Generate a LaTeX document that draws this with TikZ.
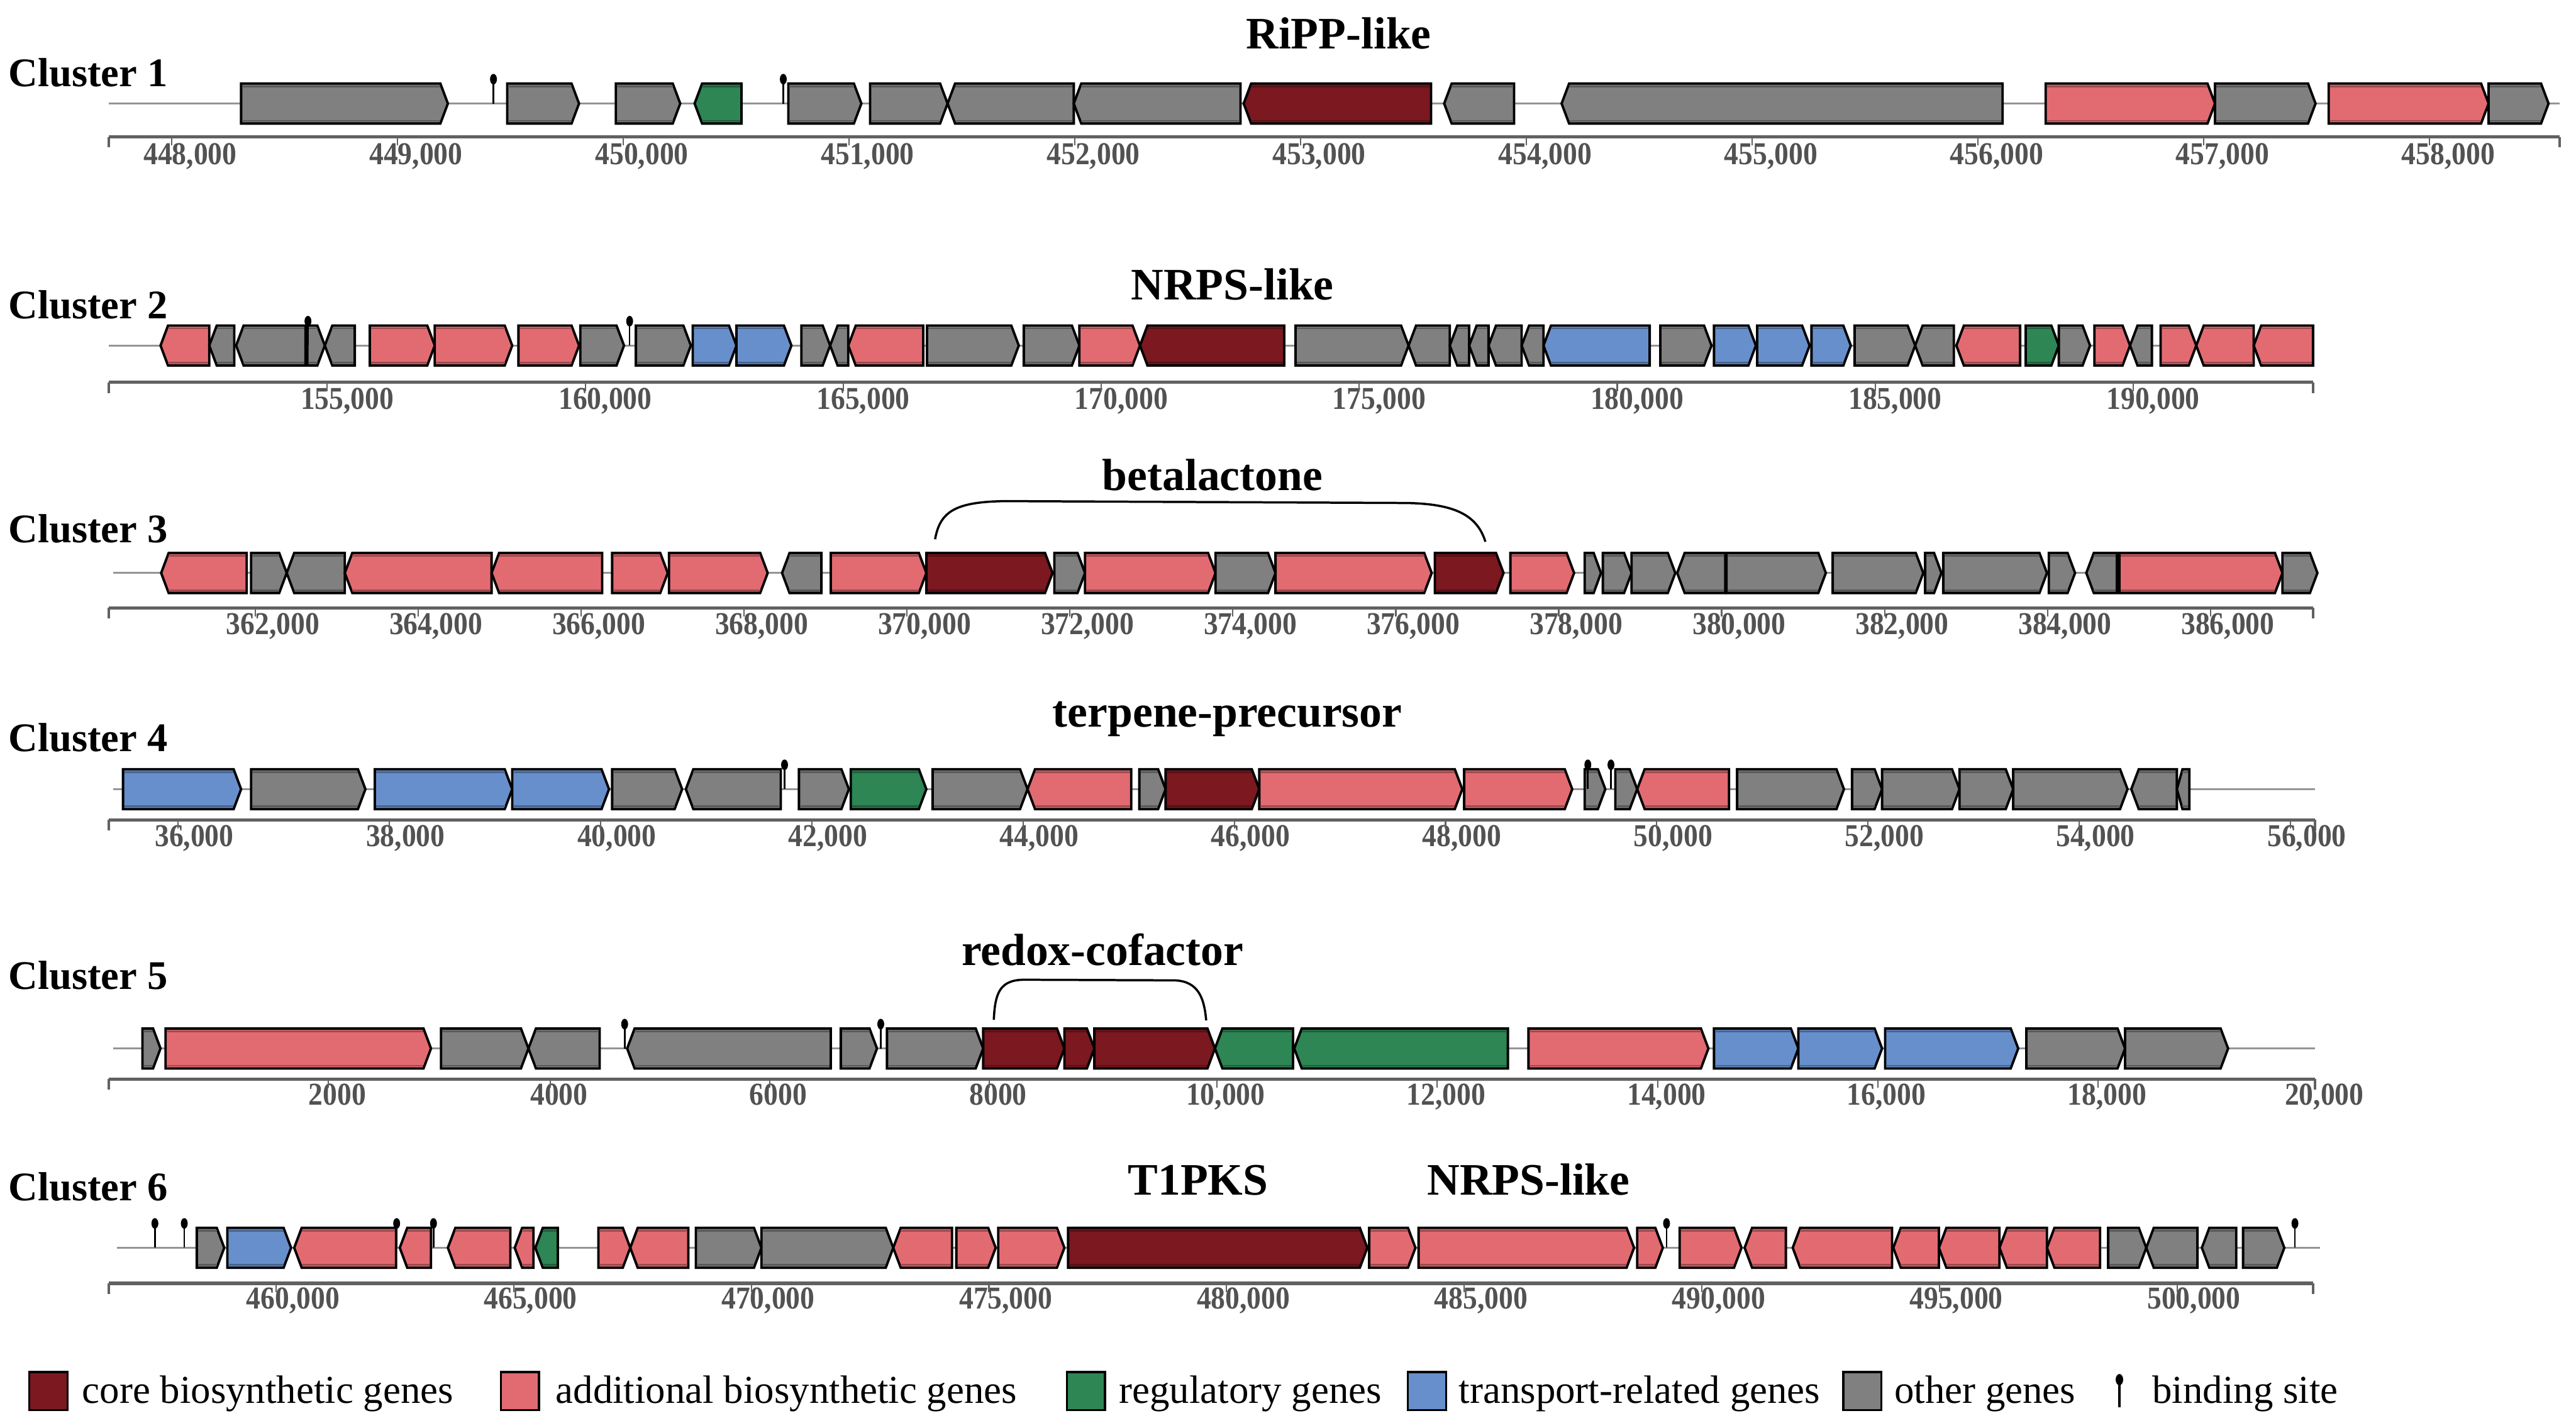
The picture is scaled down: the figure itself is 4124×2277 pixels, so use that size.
\documentclass[tikz,border=0pt]{standalone}
\usepackage{fontspec}
\setmainfont{Liberation Serif}
\newfontfamily\axfont{Liberation Serif}[FakeStretch=0.9]
\definecolor{gcore}{RGB}{123,24,32}
\definecolor{gadd}{RGB}{226,107,113}
\definecolor{greg}{RGB}{45,134,84}
\definecolor{gtrans}{RGB}{103,143,203}
\definecolor{gother}{RGB}{128,128,128}
\tikzset{
 genestyle/.style={draw=black, line width=1.1pt, line join=miter},
 bb/.style={draw=black!42, line width=0.9pt},
 axisline/.style={draw=black!62, line width=1.5pt},
 tickline/.style={draw=black!62, line width=0.6pt},
 ticklab/.style={font=\axfont\bfseries\fontsize{14.5}{14.5}\selectfont, text=black!68, anchor=base, inner sep=0pt},
 clab/.style={font=\bfseries\fontsize{18.5}{18.5}\selectfont, anchor=base west, inner sep=0pt},
 ttl/.style={font=\bfseries\fontsize{20.5}{20.5}\selectfont, anchor=base, inner sep=0pt},
 leg/.style={font=\fontsize{18}{18}\selectfont, anchor=base west, inner sep=0pt},
 legbox/.style={draw=black, line width=1pt},
 pinline/.style={draw=black, line width=0.75pt},
 bracestyle/.style={draw=black, line width=1pt},
}
\newcommand\GF[3]{\pgfmathsetmacro\gtx{#2-min(12,(#2-#1)*0.45)}\filldraw[genestyle,fill=#3] (#1,\cyy-32) -- (\gtx,\cyy-32) -- (#2,\cyy) -- (\gtx,\cyy+32) -- (#1,\cyy+32) -- cycle;
 \draw[#3!70!black,line width=0.8pt] (#1+2,\cyy-27.5) -- (\gtx,\cyy-27.5) (#1+2,\cyy+27.5) -- (\gtx,\cyy+27.5);}
\newcommand\GR[3]{\pgfmathsetmacro\gtx{#1+min(12,(#2-#1)*0.45)}\filldraw[genestyle,fill=#3] (#1,\cyy) -- (\gtx,\cyy-32) -- (#2,\cyy-32) -- (#2,\cyy+32) -- (\gtx,\cyy+32) -- cycle;
 \draw[#3!70!black,line width=0.8pt] (\gtx,\cyy-27.5) -- (#2-2,\cyy-27.5) (\gtx,\cyy+27.5) -- (#2-2,\cyy+27.5);}
\newcommand\Pin[1]{\draw[pinline] (#1,\cyy) -- (#1,\cyy-38); \fill (#1,\cyy-39) ellipse (0.055cm and 0.085cm);}
\newcommand\Axis[3]{\draw[axisline] (#1,#3) -- (#2,#3); \draw[tickline,line width=1pt] (#1,#3) -- (#1,#3+17); \draw[tickline,line width=1pt] (#2,#3) -- (#2,#3+17);}
\begin{document}
\begin{tikzpicture}[x=0.01cm,y=-0.01cm]
\useasboundingbox (0,0) rectangle (4124,2277);
% ---------------- Cluster 1
\def\cyy{165.7}
\node[clab] (c1) at (13,138) {Cluster 1};
\node[ttl] (t1) at (2143,78) {RiPP-like};
\draw[bb] (174,\cyy) -- (4098,\cyy);
\GF{386}{717}{gother}
\GF{812}{927}{gother}
\GF{986}{1089}{gother}
\GR{1112}{1187}{greg}
\GF{1262}{1379}{gother}
\GF{1393}{1517}{gother}
\GR{1517}{1719}{gother}
\GR{1719}{1986}{gother}
\GR{1991}{2291}{gcore}
\GR{2312}{2424}{gother}
\GR{2500}{3206}{gother}
\GF{3275}{3546}{gadd}
\GF{3546}{3707}{gother}
\GF{3728}{3984}{gadd}
\GF{3984}{4080}{gother}
\Pin{790}\Pin{1254}
\Axis{174}{4098}{219}
\foreach \v [count=\k from 0] in {448,...,458}{
 \pgfmathsetmacro\xc{304.5+\k*361.5}
 \node[ticklab] (c1t\k) at (\xc,263) {\v,000};
 \draw[tickline] (\xc-30,219) -- (\xc-30,233);}
% ---------------- Cluster 2
\def\cyy{553}
\node[clab] (c2) at (13,510) {Cluster 2};
\node[ttl] (t2) at (1973,480) {NRPS-like};
\draw[bb] (174,\cyy) -- (3703,\cyy);
\GR{257}{335}{gadd}
\GR{335}{375}{gother}
\GR{378}{489}{gother}
\GF{492}{520}{gother}
\GR{520}{568}{gother}
\GF{592}{696}{gadd}
\GF{696}{820}{gadd}
\GF{830}{927}{gadd}
\GF{929}{999}{gother}
\GF{1018}{1106}{gother}
\GF{1109}{1179}{gtrans}
\GF{1179}{1267}{gtrans}
\GF{1283}{1329}{gother}
\GR{1329}{1358}{gother}
\GR{1358}{1478}{gadd}
\GF{1484}{1631}{gother}
\GF{1639}{1728}{gother}
\GF{1728}{1825}{gadd}
\GR{1825}{2056}{gcore}
\GF{2074}{2255}{gother}
\GR{2255}{2321}{gother}
\GR{2321}{2352}{gother}
\GR{2352}{2383}{gother}
\GR{2383}{2436}{gother}
\GR{2436}{2471}{gother}
\GR{2471}{2641}{gtrans}
\GF{2658}{2740}{gother}
\GF{2744}{2811}{gtrans}
\GF{2813}{2897}{gtrans}
\GF{2900}{2963}{gtrans}
\GF{2969}{3066}{gother}
\GR{3066}{3128}{gother}
\GR{3132}{3234}{gadd}
\GF{3243}{3296}{greg}
\GF{3296}{3346}{gother}
\GF{3353}{3410}{gadd}
\GR{3410}{3445}{gother}
\GF{3459}{3516}{gadd}
\GR{3516}{3608}{gadd}
\GR{3608}{3703}{gadd}
\Pin{493}\Pin{1008}
\Axis{174}{3703}{612}
\foreach \v [count=\k from 0] in {155,160,...,190}{
 \pgfmathsetmacro\xc{556+\k*413}
 \node[ticklab] (c2t\k) at (\xc,655) {\v,000};
 \draw[tickline] (\xc-32,612) -- (\xc-32,626);}
% ---------------- Cluster 3
\def\cyy{917}
\node[clab] (c3) at (13,868) {Cluster 3};
\node[ttl] (t3) at (1941,785) {betalactone};
\draw[bracestyle] (1497,863) .. controls (1505,818) and (1530,803) .. (1610,802) -- (2250,805) .. controls (2330,806) and (2365,825) .. (2378,867);
\draw[bb] (181,\cyy) -- (3710,\cyy);
\GR{258}{395}{gadd}
\GF{402}{459}{gother}
\GR{459}{552}{gother}
\GR{552}{787}{gadd}
\GR{787}{964}{gadd}
\GF{980}{1069}{gadd}
\GF{1071}{1229}{gadd}
\GR{1252}{1315}{gother}
\GF{1330}{1483}{gadd}
\GF{1483}{1685}{gcore}
\GF{1688}{1737}{gother}
\GF{1737}{1946}{gadd}
\GF{1946}{2042}{gother}
\GF{2042}{2292}{gadd}
\GF{2297}{2407}{gcore}
\GF{2418}{2520}{gadd}
\GF{2537}{2563}{gother}
\GF{2566}{2612}{gother}
\GF{2612}{2682}{gother}
\GR{2685}{2762}{gother}
\GF{2764}{2923}{gother}
\GF{2934}{3079}{gother}
\GF{3082}{3108}{gother}
\GF{3111}{3277}{gother}
\GF{3280}{3322}{gother}
\GR{3340}{3389}{gother}
\GF{3393}{3654}{gadd}
\GF{3654}{3710}{gother}
\Axis{174}{3703}{973}
\foreach \v [count=\k from 0] in {362,364,...,386}{
 \pgfmathsetmacro\xc{437+\k*260.8}
 \node[ticklab] (c3t\k) at (\xc,1015) {\v,000};
 \draw[tickline] (\xc-28,973) -- (\xc-28,987);}
% ---------------- Cluster 4
\def\cyy{1263}
\node[clab] (c4) at (13,1203) {Cluster 4};
\node[ttl] (t4) at (1965,1163) {terpene-precursor};
\draw[bb] (181,\cyy) -- (3706,\cyy);
\GF{197}{386}{gtrans}
\GF{402}{585}{gother}
\GF{600}{820}{gtrans}
\GF{820}{975}{gtrans}
\GF{980}{1092}{gother}
\GR{1098}{1250}{gother}
\GF{1279}{1359}{gother}
\GF{1362}{1483}{greg}
\GF{1493}{1645}{gother}
\GR{1645}{1811}{gadd}
\GF{1824}{1866}{gother}
\GF{1866}{2016}{gcore}
\GF{2016}{2341}{gadd}
\GF{2344}{2517}{gadd}
\GF{2537}{2570}{gother}
\GF{2586}{2621}{gother}
\GR{2621}{2768}{gadd}
\GF{2781}{2952}{gother}
\GF{2965}{3013}{gother}
\GF{3013}{3137}{gother}
\GF{3137}{3223}{gother}
\GF{3223}{3406}{gother}
\GR{3412}{3485}{gother}
\GR{3485}{3505}{gother}
\Pin{1256}\Pin{2542}\Pin{2579}
\Axis{174}{3706}{1312}
\foreach \v [count=\k from 0] in {36,38,...,56}{
 \pgfmathsetmacro\xc{311+\k*338.2}
 \node[ticklab] (c4t\k) at (\xc,1355) {\v,000};
 \draw[tickline] (\xc-26,1312) -- (\xc-26,1326);}
% ---------------- Cluster 5
\def\cyy{1678}
\node[clab] (c5) at (13,1583) {Cluster 5};
\node[ttl] (t5) at (1765,1545) {redox-cofactor};
\draw[bracestyle] (1591,1632) .. controls (1593,1590) and (1600,1568) .. (1640,1568) -- (1880,1569) .. controls (1920,1570) and (1928,1600) .. (1931,1633);
\draw[bb] (181,\cyy) -- (3706,\cyy);
\GF{228}{257}{gother}
\GF{265}{690}{gadd}
\GF{706}{846}{gother}
\GR{846}{960}{gother}
\GR{1004}{1330}{gother}
\GF{1346}{1404}{gother}
\GF{1420}{1574}{gother}
\GF{1574}{1704}{gcore}
\GF{1704}{1752}{gcore}
\GF{1752}{1945}{gcore}
\GR{1945}{2070}{greg}
\GR{2072}{2414}{greg}
\GF{2447}{2735}{gadd}
\GF{2744}{2879}{gtrans}
\GF{2879}{3013}{gtrans}
\GF{3018}{3231}{gtrans}
\GF{3244}{3402}{gother}
\GF{3402}{3567}{gother}
\Pin{1000}\Pin{1410}
\Axis{174}{3706}{1727}
\foreach \xc/\t [count=\k] in {540/2000,895/4000,1246/6000,1598/8000,1962/{10,000},2315/{12,000},2668/{14,000},3020/{16,000},3373/{18,000},3721/{20,000}}{
 \node[ticklab] (c5t\k) at (\xc,1768) {\t};
 \draw[tickline] (\xc-14,1727) -- (\xc-14,1741);}
% ---------------- Cluster 6
\def\cyy{1997}
\node[clab] (c6) at (13,1922) {Cluster 6};
\node[ttl] (t6a) at (1918,1912) {T1PKS};
\node[ttl] (t6b) at (2447,1912) {NRPS-like};
\draw[bb] (187,\cyy) -- (3714,\cyy);
\GF{315}{359}{gother}
\GF{364}{466}{gtrans}
\GR{471}{634}{gadd}
\GR{640}{690}{gadd}
\GR{717}{817}{gadd}
\GR{824}{854}{gadd}
\GR{857}{893}{greg}
\GF{958}{1009}{gadd}
\GR{1009}{1102}{gadd}
\GF{1114}{1219}{gother}
\GF{1219}{1430}{gother}
\GR{1430}{1524}{gadd}
\GF{1531}{1594}{gadd}
\GF{1598}{1704}{gadd}
\GF{1710}{2189}{gcore}
\GF{2192}{2266}{gadd}
\GF{2271}{2616}{gadd}
\GF{2621}{2662}{gadd}
\GF{2689}{2788}{gadd}
\GR{2793}{2859}{gadd}
\GR{2870}{3029}{gadd}
\GR{3031}{3104}{gadd}
\GR{3104}{3201}{gadd}
\GR{3201}{3277}{gadd}
\GR{3277}{3362}{gadd}
\GF{3375}{3436}{gother}
\GR{3436}{3518}{gother}
\GR{3525}{3580}{gother}
\GF{3591}{3657}{gother}
\Pin{248}\Pin{295}\Pin{635}\Pin{694}\Pin{2668}\Pin{3674}
\Axis{174}{3703}{2054}
\foreach \v [count=\k from 0] in {460,465,...,500}{
 \pgfmathsetmacro\xc{469+\k*380.4}
 \node[ticklab] (c6t\k) at (\xc,2095) {\v,000};
 \draw[tickline] (\xc-27,2054) -- (\xc-27,2068);}
% ---------------- Legend
\filldraw[legbox,fill=gcore] (47,2196) rectangle (108,2257);
\node[leg] (l1) at (131,2246) {core biosynthetic genes};
\filldraw[legbox,fill=gadd] (802,2196) rectangle (863,2257);
\node[leg] (l2) at (889,2246) {additional biosynthetic genes};
\filldraw[legbox,fill=greg] (1708,2196) rectangle (1769,2257);
\node[leg] (l3) at (1791,2246) {regulatory genes};
\filldraw[legbox,fill=gtrans] (2254,2196) rectangle (2315,2257);
\node[leg] (l4) at (2335,2246) {transport-related genes};
\filldraw[legbox,fill=gother] (2951,2196) rectangle (3012,2257);
\node[leg] (l5) at (3032,2246) {other genes};
\draw[pinline,line width=0.9pt] (3393,2252) -- (3393,2212);
\fill (3393,2208) ellipse (0.06cm and 0.09cm);
\node[leg] (l6) at (3445,2246) {binding site};
\end{tikzpicture}
\end{document}
